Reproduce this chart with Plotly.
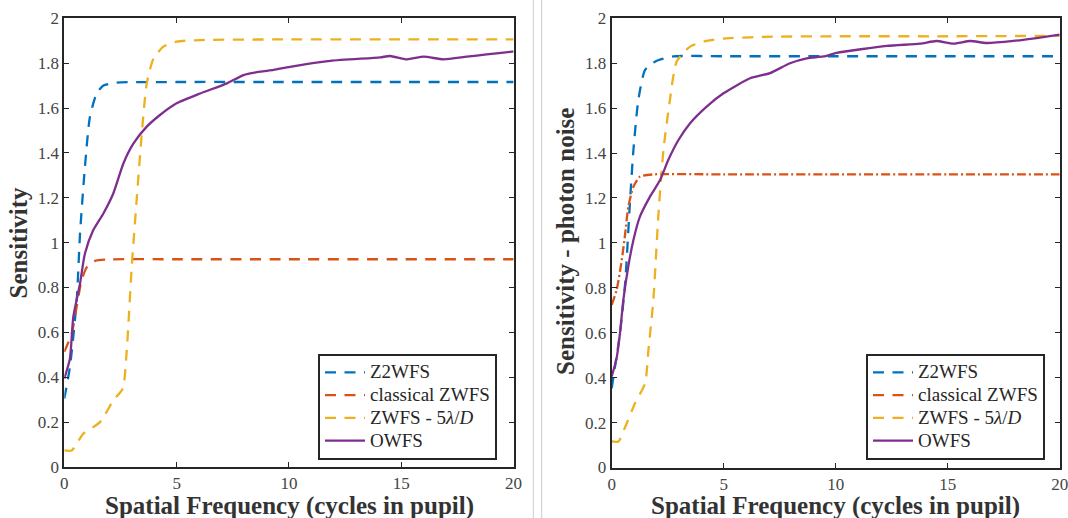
import plotly.graph_objects as go

# ---------------- data ----------------
# Left panel: Sensitivity
L_z2_x = [0, 0.25, 0.55, 0.7, 0.92, 1.14, 1.44, 1.74, 2.33, 5, 10, 15, 20]
L_z2_y = [0.305, 0.446, 0.74, 1.04, 1.34, 1.56, 1.665, 1.70, 1.713, 1.716, 1.716, 1.716, 1.716]

L_cl_x = [0, 0.33, 0.55, 0.77, 1.0, 1.37, 1.89, 5, 10, 15, 20]
L_cl_y = [0.513, 0.595, 0.714, 0.833, 0.89, 0.919, 0.925, 0.926, 0.926, 0.926, 0.926]

L_z5_x = [0, 0.33, 0.85, 1.59, 2.18, 2.6, 2.78, 3.0, 3.22, 3.45, 3.67, 3.97, 4.41, 5.0, 6.05, 10, 15, 20]
L_z5_y = [0.074, 0.074, 0.149, 0.2, 0.297, 0.349, 0.52, 0.89, 1.19, 1.487, 1.71, 1.82, 1.874, 1.896, 1.903, 1.906, 1.906, 1.906]

L_ow_x = [0, 0.25, 0.4, 0.7, 0.92, 1.29, 1.74, 2.18, 2.63, 3.08, 3.67, 4.26, 5.0, 6.05, 7.24, 7.98,
          8.72, 9.32, 10.05, 11.84, 14.06, 14.5, 15.25, 16.0, 16.88, 17.92, 18.8, 19.93, 20]
L_ow_y = [0.394, 0.483, 0.669, 0.818, 0.952, 1.056, 1.13, 1.219, 1.353, 1.442, 1.517, 1.569, 1.621, 1.665, 1.710, 1.747,
          1.762, 1.770, 1.784, 1.810, 1.826, 1.832, 1.817, 1.829, 1.817, 1.829, 1.839, 1.851, 1.852]

# Right panel: Sensitivity - photon noise
R_z2_x = [0, 0.15, 0.37, 0.6, 0.82, 0.97, 1.19, 1.49, 1.93, 2.75, 5, 10, 15, 20]
R_z2_y = [0.353, 0.45, 0.598, 0.82, 1.19, 1.414, 1.637, 1.77, 1.807, 1.83, 1.831, 1.831, 1.831, 1.831]

R_cl_x = [0, 0.22, 0.45, 0.6, 0.74, 0.97, 1.26, 1.86, 5, 10, 15, 20]
R_cl_y = [0.724, 0.79, 0.924, 1.04, 1.16, 1.25, 1.295, 1.305, 1.305, 1.305, 1.305, 1.305]

R_z5_x = [0, 0.3, 0.6, 1.04, 1.49, 1.64, 1.86, 2.08, 2.31, 2.6, 2.9, 3.5, 4.24, 5.13, 7.2, 10, 15, 20]
R_z5_y = [0.116, 0.116, 0.18, 0.286, 0.375, 0.524, 0.746, 1.117, 1.414, 1.637, 1.807, 1.874, 1.9, 1.911, 1.918, 1.92, 1.92, 1.922]

R_ow_x = [0, 0.22, 0.37, 0.52, 0.74, 0.97, 1.26, 1.71, 2.16, 2.53, 2.98, 3.5, 4.24, 4.99, 6.18, 7.07, 7.96,
          8.71, 9.45, 10.04, 12.28, 13.76, 14.5, 15.25, 16.0, 16.74, 17.93, 18.97, 20.0]
R_ow_y = [0.405, 0.487, 0.598, 0.746, 0.895, 1.013, 1.117, 1.206, 1.28, 1.37, 1.458, 1.533, 1.607, 1.666, 1.733, 1.756, 1.8,
          1.822, 1.83, 1.846, 1.877, 1.887, 1.899, 1.887, 1.899, 1.89, 1.899, 1.912, 1.927]

names = ["Z2WFS", "classical ZWFS", "ZWFS - 5<i>λ</i>/<i>D</i>", "OWFS"]
colors = ["#0072BD", "#D95319", "#EDB120", "#7E2F8E"]
x_title = "Spatial Frequency (cycles in pupil)"
y_titles = ["Sensitivity", "Sensitivity - photon noise"]
x_ticks = [0, 5, 10, 15, 20]
y_ticks = [0, 0.2, 0.4, 0.6, 0.8, 1, 1.2, 1.4, 1.6, 1.8, 2]

W, H = 1068, 518
FONT = "Liberation Serif"
DASH = "11px,8.5px"
DASHDOT = "9px,3px,2px,3px"
LW = 2.3


def px_x(p):
    return p / W


def px_y(p):
    return 1 - p / H


def leg_name(n):
    return '<span style="font-size:19px">' + n + "</span>"


fig = go.Figure()

left = [(L_z2_x, L_z2_y, DASH), (L_cl_x, L_cl_y, DASH), (L_z5_x, L_z5_y, DASH), (L_ow_x, L_ow_y, "solid")]
right = [(R_z2_x, R_z2_y, DASH), (R_cl_x, R_cl_y, DASHDOT), (R_z5_x, R_z5_y, DASH), (R_ow_x, R_ow_y, "solid")]

for i, (xs, ys, d) in enumerate(left):
    fig.add_trace(go.Scatter(x=xs, y=ys, mode="lines", name=leg_name(names[i]),
                             line=dict(color=colors[i], width=LW, dash=d, shape="spline", smoothing=0.6),
                             xaxis="x", yaxis="y", legend="legend"))

for i, (xs, ys, d) in enumerate(right):
    show = d != DASHDOT
    fig.add_trace(go.Scatter(x=xs, y=ys, mode="lines", name=leg_name(names[i]), showlegend=show,
                             line=dict(color=colors[i], width=LW, dash=d, shape="spline", smoothing=0.6),
                             xaxis="x2", yaxis="y2", legend="legend2", legendrank=i + 1))
    if not show:
        # legend entry drawn dashed, as in the reference
        fig.add_trace(go.Scatter(x=[None], y=[None], mode="lines", name=leg_name(names[i]),
                                 line=dict(color=colors[i], width=LW, dash=DASH),
                                 xaxis="x2", yaxis="y2", legend="legend2", legendrank=i + 1))

axis_common = dict(
    showgrid=False, zeroline=False, showline=True, linecolor="#262626", linewidth=2,
    mirror="ticks", ticks="inside", ticklen=5, tickwidth=1.2, tickcolor="#262626",
    tickfont=dict(family=FONT, size=17, color="#444444"), automargin=False,
    ticklabeloverflow="allow",
)

legend_common = dict(xanchor="left", yanchor="top",
                     bgcolor="white", bordercolor="#262626", borderwidth=2,
                     font=dict(family=FONT, size=15.2, color="#262626"), itemwidth=40,
                     tracegroupgap=0, traceorder="normal")

title_font = dict(family=FONT, size=25, color="#333333")

fig.update_layout(
    width=W, height=H,
    margin=dict(l=0, r=0, t=0, b=0),
    paper_bgcolor="white", plot_bgcolor="white",
    font=dict(family=FONT),
    showlegend=True,
    xaxis=dict(domain=[px_x(64.3), px_x(513.6)], range=[0, 20], tickvals=x_ticks, anchor="y", **axis_common),
    yaxis=dict(domain=[px_y(467), px_y(18.3)], range=[0, 2], tickvals=y_ticks, anchor="x", **axis_common),
    xaxis2=dict(domain=[px_x(611.7), px_x(1059.7)], range=[0, 20], tickvals=x_ticks, anchor="y2", **axis_common),
    yaxis2=dict(domain=[px_y(467.5), px_y(18.3)], range=[0, 2], tickvals=y_ticks, anchor="x2", **axis_common),
    legend=dict(x=px_x(318), y=px_y(354), **legend_common),
    legend2=dict(x=px_x(866), y=px_y(354), **legend_common),
    annotations=[
        dict(text="<b>" + x_title + "</b>", xref="paper", yref="paper", x=px_x(289), y=px_y(505.5),
             xanchor="center", yanchor="middle", showarrow=False, font=title_font),
        dict(text="<b>" + x_title + "</b>", xref="paper", yref="paper", x=px_x(835.7), y=px_y(505.5),
             xanchor="center", yanchor="middle", showarrow=False, font=title_font),
        dict(text="<b>" + y_titles[0] + "</b>", xref="paper", yref="paper", x=px_x(18), y=px_y(242.5),
             xanchor="center", yanchor="middle", textangle=-90, showarrow=False, font=title_font),
        dict(text="<b>" + y_titles[1] + "</b>", xref="paper", yref="paper", x=px_x(566), y=px_y(242),
             xanchor="center", yanchor="middle", textangle=-90, showarrow=False, font=title_font),
    ],
    shapes=[
        dict(type="line", xref="paper", yref="paper", x0=px_x(533.3), x1=px_x(533.3), y0=0, y1=1,
             line=dict(color="#cccccc", width=1)),
        dict(type="line", xref="paper", yref="paper", x0=px_x(541.7), x1=px_x(541.7), y0=0, y1=1,
             line=dict(color="#cccccc", width=1)),
    ],
)

fig.write_html("out.html", config={"displayModeBar": False},
               post_script="document.body.style.margin='0';document.body.style.padding='0';")
